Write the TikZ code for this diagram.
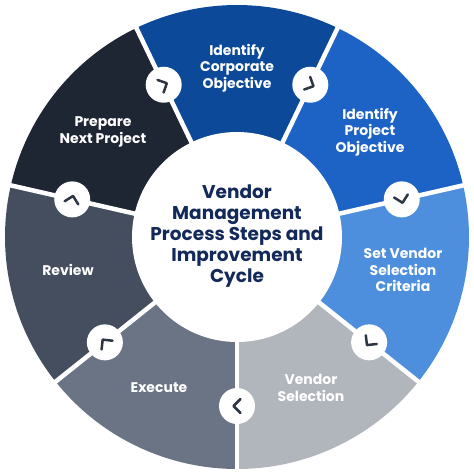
\documentclass[tikz,border=0pt]{standalone}
\usepackage{fontspec}
\setmainfont{Poppins}
\definecolor{corp}{HTML}{0C4A99}
\definecolor{proj}{HTML}{1D63C6}
\definecolor{crit}{HTML}{4E8FDD}
\definecolor{sel}{HTML}{B1B5BC}
\definecolor{exec}{HTML}{6A7485}
\definecolor{rev}{HTML}{444E5F}
\definecolor{prep}{HTML}{1E2533}
\definecolor{title}{HTML}{12295A}
\definecolor{chevcol}{HTML}{2E3644}
\tikzset{
  steplabel/.style={text=white, font=\bfseries\fontsize{14}{16.5}\selectfont, align=center},
  marker/.style={circle, fill=white, minimum size=36pt, inner sep=0pt},
  chev/.style={draw=chevcol, line width=2.5pt, line cap=round, line join=round}
}
\begin{document}
\begin{tikzpicture}[x=1pt,y=1pt]
  \pgfmathsetmacro{\Rout}{232}  % outer radius
  \pgfmathsetmacro{\Rin}{105}   % inner radius
  \pgfmathsetmacro{\Rmark}{169} % marker radius
  \pgfmathsetmacro{\w}{360/7}   % segment angle
  \useasboundingbox (-237,-237) rectangle (237,237);
  % segments
  \foreach \a/\col in {64.29/corp, 12.86/proj, -38.57/crit, -90/sel,
                       -141.43/exec, 167.14/rev, 115.71/prep}
    \fill[\col] (0,0) -- (\a:\Rout) arc[start angle=\a, delta angle=\w, radius=\Rout] -- cycle;
  % separators
  \foreach \a in {64.29, 12.86, -38.57, -90, -141.43, 167.14, 115.71}
    \draw[white, line width=4.5pt] (0,0) -- (\a:\Rout+2);
  % centre disc
  \fill[white] (0,0) circle (\Rin);
  % markers with chevrons
  \foreach \a [count=\i] in {115.71, 64.29, 12.86, -38.57, -90, -141.43, 167.14} {
    \node[marker] (m\i) at (\a:\Rmark) {};
    \begin{scope}[shift={(m\i.center)}, rotate=\a-90]
      \draw[chev] (-3.5,7) -- (3.5,0) -- (-3.5,-7);
    \end{scope}
  }
  % labels
  \node[steplabel] (corpobj) at (0,169) {Identify\\Corporate\\Objective};
  \node[steplabel] (projobj) at (133,105) {Identify\\Project\\Objective};
  \node[steplabel] (criteria) at (166,-33) {Set Vendor\\Selection\\Criteria};
  \node[steplabel] (vsel) at (74,-151) {Vendor\\Selection};
  \node[steplabel] (execute) at (-78,-151) {Execute};
  \node[steplabel] (review) at (-169,-33) {Review};
  \node[steplabel] (prepare) at (-134,105) {Prepare\\Next Project};
  \node[text=title, font=\bfseries\fontsize{18.5}{21}\selectfont, align=center] (cycle) at (0,1)
    {Vendor\\Management\\Process Steps and\\Improvement\\Cycle};
\end{tikzpicture}
\end{document}
